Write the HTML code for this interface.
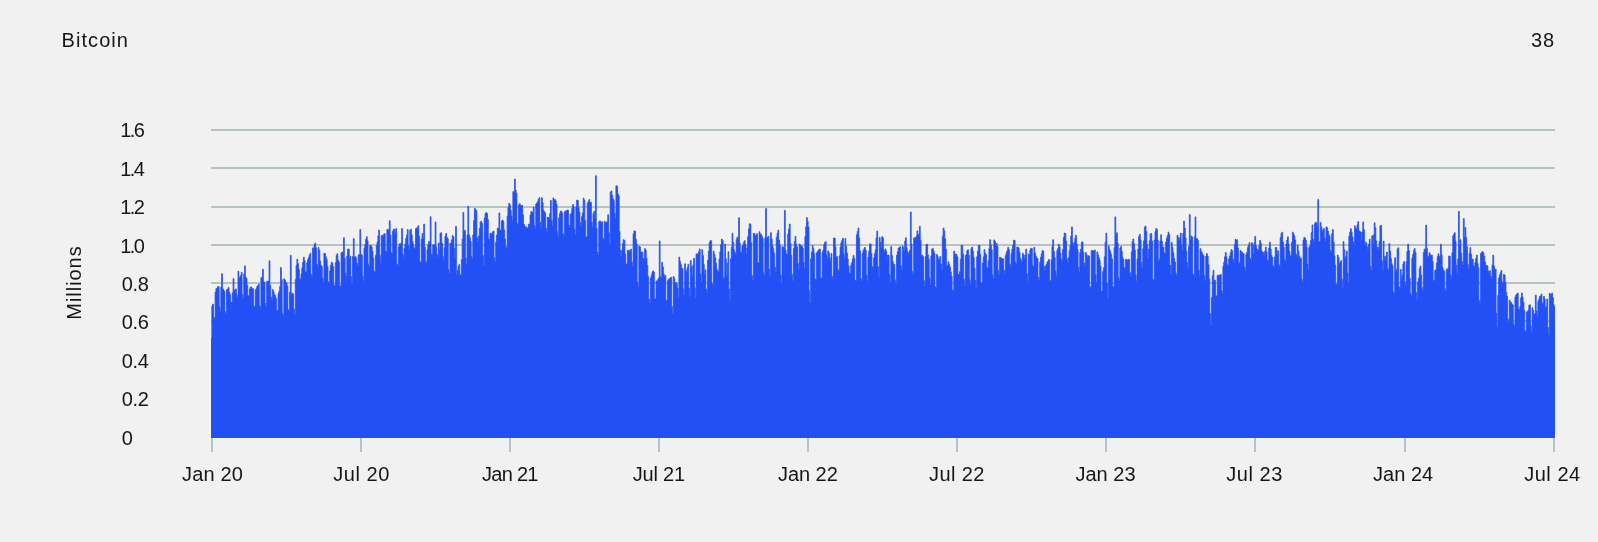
<!DOCTYPE html>
<html><head><meta charset="utf-8"><title>Bitcoin</title>
<style>
html,body{margin:0;padding:0;background:#f1f1f1;}
body{width:1598px;height:542px;overflow:hidden;font-family:"Liberation Sans",sans-serif;}
svg{display:block;will-change:transform;}
text{font-family:"Liberation Sans",sans-serif;font-size:20px;fill:#161616;}
</style></head><body>
<svg width="1598" height="542" viewBox="0 0 1598 542">
<rect x="0" y="0" width="1598" height="542" fill="#f1f1f1"/>
<rect x="211" y="129" width="1344" height="2" fill="#b5c4c2"/>
<rect x="211" y="167" width="1344" height="2" fill="#b5c4c2"/>
<rect x="211" y="206" width="1344" height="2" fill="#b5c4c2"/>
<rect x="211" y="244" width="1344" height="2" fill="#b5c4c2"/>
<rect x="211" y="282" width="1344" height="2" fill="#b5c4c2"/>
<rect x="211" y="320" width="1344" height="2" fill="#b5c4c2"/>
<rect x="211" y="359" width="1344" height="2" fill="#b5c4c2"/>
<rect x="211" y="397" width="1344" height="2" fill="#b5c4c2"/>
<rect x="210" y="438" width="1346" height="1" fill="#fcfbf1"/>
<rect x="210" y="340" width="1" height="98" fill="#f8f8f2"/>
<rect x="1555" y="312" width="1" height="126" fill="#f8f8f2"/>
<rect x="211" y="438" width="2" height="14" fill="#b5c4c2"/>
<rect x="360" y="438" width="2" height="14" fill="#b5c4c2"/>
<rect x="509" y="438" width="2" height="14" fill="#b5c4c2"/>
<rect x="658" y="438" width="2" height="14" fill="#b5c4c2"/>
<rect x="807" y="438" width="2" height="14" fill="#b5c4c2"/>
<rect x="956" y="438" width="2" height="14" fill="#b5c4c2"/>
<rect x="1105" y="438" width="2" height="14" fill="#b5c4c2"/>
<rect x="1254" y="438" width="2" height="14" fill="#b5c4c2"/>
<rect x="1404" y="438" width="2" height="14" fill="#b5c4c2"/>
<rect x="1553" y="438" width="2" height="14" fill="#b5c4c2"/>
<clipPath id="pc"><rect x="211.0" y="100" width="1344.0" height="338.0"/></clipPath>
<path clip-path="url(#pc)" fill="#2250f4" stroke="#2250f4" stroke-width="0.8" stroke-linejoin="miter" d="M211.00,438V338.4H211.82V306.1H212.64V304.1H213.45V317.1H214.27V318.4H215.09V292.2H215.91V288.5H216.73V288.4H217.54V286.5H218.36V286.7H219.18V306.9H220.00V310.7H220.82V287.1H221.63V273.7H222.45V288.7H223.27V290.0H224.09V291.3H224.91V311.8H225.72V314.0H226.54V289.6H227.36V289.0H228.18V287.5H229.00V292.5H229.81V294.8H230.63V302.0H231.45V302.9H232.27V292.8H233.09V278.6H233.90V290.3H234.72V289.9H235.54V288.9H236.36V295.0H237.18V297.4H237.99V271.2H238.81V278.8H239.63V276.8H240.45V275.4H241.27V272.3H242.08V294.5H242.90V298.5H243.72V273.9H244.54V265.9H245.36V277.3H246.17V278.4H246.99V285.4H247.81V295.7H248.63V296.3H249.45V289.0H250.26V287.0H251.08V287.0H251.90V289.2H252.72V288.5H253.54V306.0H254.35V306.2H255.17V289.7H255.99V288.7H256.81V286.2H257.63V285.8H258.44V284.1H259.26V305.7H260.08V307.3H260.90V277.5H261.72V278.9H262.53V269.3H263.35V281.4H264.17V282.5H264.99V303.6H265.81V306.2H266.63V281.4H267.44V281.3H268.26V281.0H269.08V260.8H269.90V285.4H270.72V297.0H271.53V300.6H272.35V289.6H273.17V291.5H273.99V294.4H274.81V295.6H275.62V298.3H276.44V310.6H277.26V310.7H278.08V293.6H278.90V291.3H279.71V286.4H280.53V267.5H281.35V279.5H282.17V313.4H282.99V316.2H283.80V278.8H284.62V280.2H285.44V282.1H286.26V283.2H287.08V285.9H287.89V309.6H288.71V310.7H289.53V292.1H290.35V255.3H291.17V294.4H291.98V293.3H292.80V294.1H293.62V309.1H294.44V315.1H295.26V279.4H296.07V265.3H296.89V259.3H297.71V263.7H298.53V269.5H299.35V278.7H300.16V279.7H300.98V273.6H301.80V267.9H302.62V262.3H303.44V257.2H304.25V260.6H305.07V271.8H305.89V271.9H306.71V262.7H307.53V259.6H308.34V257.7H309.16V255.2H309.98V253.3H310.80V274.2H311.62V277.1H312.43V247.9H313.25V248.3H314.07V244.8H314.89V243.2H315.71V247.8H316.52V264.0H317.34V266.8H318.16V247.5H318.98V250.3H319.80V261.0H320.61V265.2H321.43V266.4H322.25V278.1H323.07V282.7H323.89V253.3H324.70V253.6H325.52V256.8H326.34V259.4H327.16V266.4H327.98V281.7H328.79V283.0H329.61V270.9H330.43V265.2H331.25V262.1H332.07V263.2H332.88V266.5H333.70V284.9H334.52V285.5H335.34V262.6H336.16V255.4H336.97V253.6H337.79V260.1H338.61V262.0H339.43V285.2H340.25V286.8H341.06V252.7H341.88V251.9H342.70V253.6H343.52V237.8H344.34V258.2H345.15V273.1H345.97V276.8H346.79V256.1H347.61V249.1H348.43V249.1H349.24V258.6H350.06V256.3H350.88V276.7H351.70V283.5H352.52V256.6H353.33V238.6H354.15V257.3H354.97V256.7H355.79V257.7H356.61V263.3H357.42V265.2H358.24V254.8H359.06V254.7H359.88V229.5H360.70V254.3H361.51V255.0H362.33V276.2H363.15V281.0H363.97V247.9H364.79V244.5H365.60V239.3H366.42V236.7H367.24V240.8H368.06V264.2H368.88V266.9H369.70V245.2H370.51V245.5H371.33V246.9H372.15V251.3H372.97V258.1H373.79V271.1H374.60V271.8H375.42V255.3H376.24V245.3H377.06V242.0H377.88V235.8H378.69V230.1H379.51V255.3H380.33V263.2H381.15V235.5H381.97V235.4H382.78V236.2H383.60V234.0H384.42V233.7H385.24V251.0H386.06V251.9H386.87V229.4H387.69V229.6H388.51V230.9H389.33V220.7H390.15V235.0H390.96V252.5H391.78V253.6H392.60V230.9H393.42V229.0H394.24V229.7H395.05V233.6H395.87V228.5H396.69V264.0H397.51V265.2H398.33V246.9H399.14V243.9H399.96V244.3H400.78V243.2H401.60V228.5H402.42V253.9H403.23V256.9H404.05V248.5H404.87V244.2H405.69V238.4H406.51V235.1H407.32V229.5H408.14V245.8H408.96V249.4H409.78V230.4H410.60V229.2H411.41V235.0H412.23V241.6H413.05V244.5H413.87V247.8H414.69V248.6H415.50V228.7H416.32V228.3H417.14V227.3H417.96V225.7H418.78V236.1H419.59V261.4H420.41V262.7H421.23V238.9H422.05V233.5H422.87V238.4H423.68V224.0H424.50V247.2H425.32V261.5H426.14V262.7H426.96V249.8H427.77V244.5H428.59V241.4H429.41V242.5H430.23V216.7H431.05V254.2H431.86V254.4H432.68V245.0H433.50V244.6H434.32V245.9H435.14V222.0H435.95V246.9H436.77V254.6H437.59V256.9H438.41V242.9H439.23V249.8H440.04V232.9H440.86V232.9H441.68V243.1H442.50V256.3H443.32V260.2H444.13V247.5H444.95V236.2H445.77V233.5H446.59V237.4H447.41V238.7H448.22V269.6H449.04V273.5H449.86V243.3H450.68V243.0H451.50V239.8H452.31V235.6H453.13V236.8H453.95V248.3H454.77V258.9H455.59V226.5H456.40V274.6H457.22V270.6H458.04V266.5H458.86V264.5H459.68V274.6H460.49V275.6H461.31V259.5H462.13V239.0H462.95V212.4H463.77V232.1H464.58V230.4H465.40V257.8H466.22V264.3H467.04V235.1H467.86V206.2H468.67V234.8H469.49V237.4H470.31V241.2H471.13V256.1H471.95V258.4H472.77V234.9H473.58V220.6H474.40V208.4H475.22V209.6H476.04V210.7H476.86V237.9H477.67V242.1H478.49V235.9H479.31V228.5H480.13V221.9H480.95V221.3H481.76V223.4H482.58V255.6H483.40V264.9H484.22V218.1H485.04V213.6H485.85V212.5H486.67V213.5H487.49V219.3H488.31V238.9H489.13V240.2H489.94V233.3H490.76V233.5H491.58V234.0H492.40V231.9H493.22V231.1H494.03V257.8H494.85V262.0H495.67V241.9H496.49V234.9H497.31V228.0H498.12V228.3H498.94V212.9H499.76V229.8H500.58V230.7H501.40V220.9H502.21V220.1H503.03V221.2H503.85V229.9H504.67V238.8H505.49V246.6H506.30V248.5H507.12V216.2H507.94V207.5H508.76V203.4H509.58V204.8H510.39V210.3H511.21V216.1H512.03V220.2H512.85V191.6H513.67V192.5H514.48V179.0H515.30V190.0H516.12V193.2H516.94V223.7H517.76V224.5H518.57V205.1H519.39V203.6H520.21V205.6H521.03V205.7H521.85V205.3H522.66V214.9H523.48V224.1H524.30V226.1H525.12V228.0H525.94V226.8H526.75V228.6H527.57V228.1H528.39V224.0H529.21V225.2H530.03V215.0H530.84V211.6H531.66V211.8H532.48V214.1H533.30V207.1H534.12V225.3H534.93V228.5H535.75V204.0H536.57V203.0H537.39V201.6H538.21V199.1H539.02V197.6H539.84V222.3H540.66V228.6H541.48V197.8H542.30V202.7H543.11V210.2H543.93V211.7H544.75V212.7H545.57V228.0H546.39V231.8H547.20V217.1H548.02V217.5H548.84V218.3H549.66V213.6H550.48V200.4H551.29V220.3H552.11V226.0H552.93V198.1H553.75V200.1H554.57V199.4H555.38V200.8H556.20V204.2H557.02V231.8H557.84V237.0H558.66V217.7H559.47V213.6H560.29V211.0H561.11V211.3H561.93V213.1H562.75V233.4H563.56V236.0H564.38V211.8H565.20V210.9H566.02V210.9H566.84V210.1H567.65V210.1H568.47V225.1H569.29V227.7H570.11V213.9H570.93V214.0H571.74V208.5H572.56V204.5H573.38V206.8H574.20V229.0H575.02V235.0H575.84V207.2H576.65V200.0H577.47V200.5H578.29V207.5H579.11V212.1H579.93V222.7H580.74V226.0H581.56V216.5H582.38V212.9H583.20V198.2H584.02V200.3H584.83V220.4H585.65V236.8H586.47V236.8H587.29V202.9H588.11V201.3H588.92V199.6H589.74V203.0H590.56V202.2H591.38V221.9H592.20V227.6H593.01V213.2H593.83V211.3H594.65V217.5H595.47V175.7H596.29V228.3H597.10V252.1H597.92V255.1H598.74V221.9H599.56V220.8H600.38V222.2H601.19V222.1H602.01V221.8H602.83V238.4H603.65V239.3H604.47V221.3H605.28V223.0H606.10V222.2H606.92V221.9H607.74V214.7H608.56V232.6H609.37V243.5H610.19V192.1H611.01V190.9H611.83V195.2H612.65V198.7H613.46V200.5H614.28V213.2H615.10V218.5H615.92V185.8H616.74V186.2H617.55V193.7H618.37V195.8H619.19V231.6H620.01V250.6H620.83V256.8H621.64V250.3H622.46V243.4H623.28V239.7H624.10V240.5H624.92V254.2H625.73V263.9H626.55V264.0H627.37V250.2H628.19V250.2H629.01V250.7H629.82V251.6H630.64V249.0H631.46V261.8H632.28V265.9H633.10V233.9H633.91V230.9H634.73V231.1H635.55V239.2H636.37V244.0H637.19V282.2H638.00V286.8H638.82V246.0H639.64V247.0H640.46V251.5H641.28V253.1H642.09V252.0H642.91V258.6H643.73V259.2H644.55V248.6H645.37V250.0H646.18V258.2H647.00V265.2H647.82V276.6H648.64V299.2H649.46V302.9H650.27V278.1H651.09V275.5H651.91V272.5H652.73V270.9H653.55V271.9H654.36V298.7H655.18V299.1H656.00V280.9H656.82V282.0H657.64V279.6H658.45V277.9H659.27V240.9H660.09V276.8H660.91V277.5H661.73V262.3H662.54V266.9H663.36V273.9H664.18V276.6H665.00V275.5H665.82V300.1H666.63V300.4H667.45V280.6H668.27V279.4H669.09V278.5H669.91V278.2H670.72V277.3H671.54V306.4H672.36V313.3H673.18V276.5H674.00V278.3H674.81V282.5H675.63V282.6H676.45V283.6H677.27V288.0H678.09V297.8H678.91V257.1H679.72V261.3H680.54V264.3H681.36V268.3H682.18V268.5H683.00V288.9H683.81V295.2H684.63V263.7H685.45V270.2H686.27V272.3H687.09V267.6H687.90V264.2H688.72V288.1H689.54V295.2H690.36V260.6H691.18V266.6H691.99V276.3H692.81V264.9H693.63V258.3H694.45V287.7H695.27V297.8H696.08V253.9H696.90V254.6H697.72V253.4H698.54V251.7H699.36V248.9H700.17V274.3H700.99V282.3H701.81V249.7H702.63V255.5H703.45V264.6H704.26V273.7H705.08V269.8H705.90V289.0H706.72V292.6H707.54V260.1H708.35V251.1H709.17V242.6H709.99V240.7H710.81V240.8H711.63V283.4H712.44V284.9H713.26V251.2H714.08V254.2H714.90V257.8H715.72V263.2H716.53V269.4H717.35V271.1H718.17V271.2H718.99V259.0H719.81V251.8H720.62V244.6H721.44V239.1H722.26V240.5H723.08V277.5H723.90V278.4H724.71V244.1H725.53V258.6H726.35V275.7H727.17V263.3H727.99V251.7H728.80V289.0H729.62V300.4H730.44V258.7H731.26V247.3H732.08V233.1H732.89V242.3H733.71V249.7H734.53V252.3H735.35V254.6H736.17V239.5H736.98V237.0H737.80V239.3H738.62V217.7H739.44V243.1H740.26V252.2H741.07V252.3H741.89V246.3H742.71V244.9H743.53V242.2H744.35V240.7H745.16V244.6H745.98V253.5H746.80V248.0H747.62V236.8H748.44V228.9H749.25V223.8H750.07V224.1H750.89V242.8H751.71V275.5H752.53V279.7H753.34V233.4H754.16V233.5H754.98V236.1H755.80V235.5H756.62V233.7H757.43V262.6H758.25V262.9H759.07V231.7H759.89V233.7H760.71V234.3H761.52V236.0H762.34V238.4H763.16V272.7H763.98V275.8H764.80V237.8H765.61V208.6H766.43V237.4H767.25V237.4H768.07V236.3H768.89V269.3H769.70V275.8H770.52V232.7H771.34V239.0H772.16V245.7H772.98V248.7H773.79V253.0H774.61V267.2H775.43V271.9H776.25V237.3H777.07V233.3H777.88V230.2H778.70V239.9H779.52V244.7H780.34V275.4H781.16V283.6H781.98V246.7H782.79V246.9H783.61V248.0H784.43V210.5H785.25V249.8H786.07V254.0H786.88V254.0H787.70V234.0H788.52V229.1H789.34V224.0H790.16V243.4H790.97V255.4H791.79V274.6H792.61V281.0H793.43V248.2H794.25V241.3H795.06V236.3H795.88V244.2H796.70V247.0H797.52V263.3H798.34V269.4H799.15V244.0H799.97V244.9H800.79V246.0H801.61V246.1H802.43V248.1H803.24V262.2H804.06V268.1H804.88V236.5H805.70V226.7H806.52V217.5H807.33V221.6H808.15V227.1H808.97V290.7H809.79V302.9H810.61V258.7H811.42V252.1H812.24V245.4H813.06V248.6H813.88V253.6H814.70V279.0H815.51V279.7H816.33V252.9H817.15V251.5H817.97V250.5H818.79V249.3H819.60V249.2H820.42V277.7H821.24V278.4H822.06V252.4H822.88V250.0H823.69V244.7H824.51V242.7H825.33V241.6H826.15V255.1H826.97V259.3H827.78V250.9H828.60V252.7H829.42V257.7H830.24V260.4H831.06V253.5H831.87V276.2H832.69V278.4H833.51V238.0H834.33V238.0H835.15V246.8H835.96V257.5H836.78V256.5H837.60V269.5H838.42V270.9H839.24V255.8H840.05V247.0H840.87V242.7H841.69V240.4H842.51V238.3H843.33V253.4H844.14V258.1H844.96V238.6H845.78V246.3H846.60V252.9H847.42V259.0H848.23V266.3H849.05V273.0H849.87V273.5H850.69V265.0H851.51V262.8H852.32V258.9H853.14V255.4H853.96V258.5H854.78V280.3H855.60V281.0H856.41V234.8H857.23V231.4H858.05V228.0H858.87V238.1H859.69V250.7H860.50V278.5H861.32V281.0H862.14V253.2H862.96V250.4H863.78V248.7H864.59V247.4H865.41V250.2H866.23V275.6H867.05V281.0H867.87V257.1H868.68V251.0H869.50V243.9H870.32V244.1H871.14V253.5H871.96V266.6H872.77V267.4H873.59V257.7H874.41V253.5H875.23V249.7H876.05V237.7H876.86V231.1H877.68V266.8H878.50V277.1H879.32V237.5H880.14V242.1H880.95V248.1H881.77V236.7H882.59V237.8H883.41V249.8H884.23V252.1H885.05V248.9H885.86V251.1H886.68V255.1H887.50V257.6H888.32V255.0H889.14V274.4H889.95V282.3H890.77V246.5H891.59V255.3H892.41V261.6H893.23V264.5H894.04V264.3H894.86V279.9H895.68V283.6H896.50V255.2H897.32V251.7H898.13V248.1H898.95V247.8H899.77V246.7H900.59V265.5H901.41V270.6H902.22V245.9H903.04V247.8H903.86V250.7H904.68V241.0H905.50V237.8H906.31V247.7H907.13V251.3H907.95V253.7H908.77V252.4H909.59V250.2H910.40V212.0H911.22V244.2H912.04V271.6H912.86V274.5H913.68V237.8H914.49V238.8H915.31V237.5H916.13V236.1H916.95V230.9H917.77V234.3H918.58V234.9H919.40V226.3H920.22V240.2H921.04V256.1H921.86V255.1H922.67V256.7H923.49V280.2H924.31V286.1H925.13V256.5H925.95V244.6H926.76V244.2H927.58V254.6H928.40V259.0H929.22V277.8H930.04V284.9H930.85V255.7H931.67V249.0H932.49V248.4H933.31V250.9H934.13V253.5H934.94V286.8H935.76V287.4H936.58V254.5H937.40V256.6H938.22V259.8H939.03V259.4H939.85V256.6H940.67V264.0H941.49V270.6H942.31V236.4H943.12V228.1H943.94V230.8H944.76V238.8H945.58V249.1H946.40V265.2H947.21V265.5H948.03V261.7H948.85V264.2H949.67V267.2H950.49V271.9H951.30V276.3H952.12V290.0H952.94V291.3H953.76V251.1H954.58V253.8H955.39V256.2H956.21V254.3H957.03V256.9H957.85V274.0H958.67V274.5H959.48V271.6H960.30V259.3H961.12V245.2H961.94V245.6H962.76V254.1H963.57V279.2H964.39V286.1H965.21V255.6H966.03V254.7H966.85V250.4H967.66V249.8H968.48V255.3H969.30V279.8H970.12V284.9H970.94V248.6H971.75V247.1H972.57V251.0H973.39V257.4H974.21V268.3H975.03V280.5H975.84V287.4H976.66V256.7H977.48V251.2H978.30V245.5H979.12V245.1H979.93V254.4H980.75V283.0H981.57V283.6H982.39V263.1H983.21V256.9H984.02V249.5H984.84V253.2H985.66V254.4H986.48V267.5H987.30V268.1H988.12V260.6H988.93V248.4H989.75V239.7H990.57V244.8H991.39V249.7H992.21V274.8H993.02V278.4H993.84V239.9H994.66V241.4H995.48V243.5H996.30V243.5H997.11V246.2H997.93V270.6H998.75V274.5H999.57V257.2H1000.39V257.6H1001.20V258.9H1002.02V259.0H1002.84V258.6H1003.66V270.3H1004.48V273.2H1005.29V255.4H1006.11V252.6H1006.93V250.4H1007.75V247.3H1008.57V249.3H1009.38V264.0H1010.20V266.2H1011.02V253.5H1011.84V249.0H1012.66V245.1H1013.47V240.1H1014.29V240.4H1015.11V262.0H1015.93V264.2H1016.75V247.1H1017.56V247.2H1018.38V248.2H1019.20V252.4H1020.02V258.0H1020.84V260.5H1021.65V262.3H1022.47V253.3H1023.29V254.9H1024.11V259.0H1024.93V255.1H1025.74V249.1H1026.56V273.5H1027.38V281.0H1028.20V253.9H1029.02V254.7H1029.83V250.0H1030.65V248.3H1031.47V248.4H1032.29V265.4H1033.11V266.8H1033.92V247.3H1034.74V253.0H1035.56V256.1H1036.38V258.0H1037.20V258.6H1038.01V277.3H1038.83V279.7H1039.65V262.3H1040.47V257.2H1041.29V253.7H1042.10V250.4H1042.92V251.1H1043.74V266.5H1044.56V270.6H1045.38V265.7H1046.19V264.3H1047.01V262.1H1047.83V261.0H1048.65V259.4H1049.47V280.3H1050.28V281.0H1051.10V259.9H1051.92V246.6H1052.74V239.7H1053.56V251.3H1054.37V257.7H1055.19V271.1H1056.01V275.8H1056.83V250.4H1057.65V248.6H1058.46V244.3H1059.28V246.7H1060.10V253.0H1060.92V259.1H1061.74V262.0H1062.55V249.4H1063.37V237.5H1064.19V233.1H1065.01V233.5H1065.83V241.1H1066.64V258.9H1067.46V262.9H1068.28V257.6H1069.10V250.6H1069.92V245.5H1070.73V236.0H1071.55V226.9H1072.37V242.8H1073.19V246.0H1074.01V242.4H1074.82V238.2H1075.64V235.2H1076.46V243.9H1077.28V249.5H1078.10V267.3H1078.91V271.9H1079.73V252.4H1080.55V249.1H1081.37V242.3H1082.19V241.9H1083.00V252.3H1083.82V263.0H1084.64V265.2H1085.46V252.5H1086.28V254.6H1087.09V257.2H1087.91V255.7H1088.73V255.9H1089.55V286.5H1090.37V287.4H1091.19V250.5H1092.00V250.5H1092.82V250.7H1093.64V251.5H1094.46V249.9H1095.28V275.1H1096.09V282.3H1096.91V251.9H1097.73V254.8H1098.55V257.8H1099.37V260.5H1100.18V266.2H1101.00V291.2H1101.82V291.3H1102.64V271.4H1103.46V267.8H1104.27V256.8H1105.09V242.2H1105.91V233.1H1106.73V283.5H1107.55V299.1H1108.36V245.9H1109.18V249.4H1110.00V251.3H1110.82V254.3H1111.64V258.8H1112.45V286.4H1113.27V287.4H1114.09V247.6H1114.91V216.9H1115.73V236.1H1116.54V232.8H1117.36V243.2H1118.18V277.8H1119.00V281.0H1119.82V248.0H1120.63V246.4H1121.45V251.5H1122.27V257.7H1123.09V259.6H1123.91V267.5H1124.72V268.7H1125.54V259.3H1126.36V259.5H1127.18V260.8H1128.00V259.4H1128.81V259.4H1129.63V272.6H1130.45V277.1H1131.27V252.1H1132.09V241.6H1132.90V239.0H1133.72V243.5H1134.54V250.2H1135.36V275.3H1136.18V281.0H1136.99V258.9H1137.81V249.1H1138.63V236.4H1139.45V234.3H1140.27V240.0H1141.08V262.5H1141.90V268.1H1142.72V248.5H1143.54V240.8H1144.36V227.2H1145.17V226.1H1145.99V231.7H1146.81V244.4H1147.63V258.5H1148.45V249.0H1149.26V240.7H1150.08V234.0H1150.90V233.5H1151.72V240.9H1152.54V279.7H1153.35V279.7H1154.17V240.1H1154.99V231.6H1155.81V228.6H1156.63V229.4H1157.44V240.1H1158.26V261.3H1159.08V259.1H1159.90V240.9H1160.72V234.8H1161.53V241.3H1162.35V248.1H1163.17V247.0H1163.99V253.0H1164.81V253.3H1165.62V242.1H1166.44V238.2H1167.26V235.6H1168.08V232.1H1168.90V234.6H1169.71V265.1H1170.53V274.5H1171.35V242.5H1172.17V247.5H1172.99V252.8H1173.80V258.4H1174.62V262.0H1175.44V273.0H1176.26V275.8H1177.08V235.2H1177.89V237.4H1178.71V241.1H1179.53V237.8H1180.35V233.1H1181.17V244.8H1181.98V251.1H1182.80V233.3H1183.62V221.1H1184.44V228.0H1185.26V237.9H1186.07V251.3H1186.89V262.7H1187.71V268.1H1188.53V246.4H1189.35V214.6H1190.16V239.8H1190.98V235.9H1191.80V237.0H1192.62V273.9H1193.44V275.8H1194.26V236.8H1195.07V216.9H1195.89V238.4H1196.71V238.7H1197.53V240.3H1198.35V270.0H1199.16V275.8H1199.98V248.6H1200.80V250.9H1201.62V252.7H1202.44V254.6H1203.25V255.8H1204.07V275.6H1204.89V281.0H1205.71V256.0H1206.53V253.6H1207.34V256.0H1208.16V264.6H1208.98V279.1H1209.80V313.5H1210.62V324.9H1211.43V297.5H1212.25V275.5H1213.07V270.3H1213.89V280.2H1214.71V280.6H1215.52V295.6H1216.34V296.5H1217.16V275.2H1217.98V275.8H1218.80V275.0H1219.61V275.3H1220.43V274.5H1221.25V290.7H1222.07V293.9H1222.89V266.5H1223.70V262.2H1224.52V256.8H1225.34V252.4H1226.16V256.9H1226.98V264.8H1227.79V266.1H1228.61V258.9H1229.43V256.0H1230.25V252.4H1231.07V249.6H1231.88V250.8H1232.70V259.1H1233.52V262.7H1234.34V244.3H1235.16V239.3H1235.97V240.8H1236.79V239.7H1237.61V248.0H1238.43V263.3H1239.25V262.2H1240.06V250.4H1240.88V251.6H1241.70V252.3H1242.52V254.2H1243.34V253.6H1244.15V267.2H1244.97V270.6H1245.79V254.6H1246.61V252.3H1247.43V247.4H1248.24V244.9H1249.06V242.7H1249.88V258.3H1250.70V259.5H1251.52V242.7H1252.33V245.0H1253.15V253.7H1253.97V243.2H1254.79V236.4H1255.61V245.6H1256.42V248.8H1257.24V250.4H1258.06V249.8H1258.88V245.3H1259.70V240.4H1260.51V243.2H1261.33V251.1H1262.15V252.0H1262.97V252.5H1263.79V255.6H1264.60V251.2H1265.42V247.2H1266.24V251.8H1267.06V259.8H1267.88V261.3H1268.69V248.1H1269.51V242.2H1270.33V249.0H1271.15V255.4H1271.97V257.5H1272.78V265.8H1273.60V266.7H1274.42V257.2H1275.24V247.6H1276.06V247.5H1276.87V254.7H1277.69V250.8H1278.51V264.7H1279.33V266.8H1280.15V237.8H1280.96V233.6H1281.78V232.2H1282.60V241.9H1283.42V247.2H1284.24V259.4H1285.05V261.2H1285.87V244.0H1286.69V240.0H1287.51V236.8H1288.33V244.0H1289.14V251.5H1289.96V255.7H1290.78V255.4H1291.60V242.3H1292.42V232.1H1293.23V233.8H1294.05V236.1H1294.87V240.1H1295.69V254.3H1296.51V256.8H1297.33V245.2H1298.14V251.1H1298.96V256.0H1299.78V258.2H1300.60V258.2H1301.42V279.3H1302.23V282.3H1303.05V240.0H1303.87V237.3H1304.69V238.1H1305.51V240.1H1306.32V247.0H1307.14V264.1H1307.96V269.4H1308.78V247.5H1309.60V245.9H1310.41V240.6H1311.23V232.5H1312.05V224.9H1312.87V239.4H1313.69V242.6H1314.50V223.6H1315.32V222.2H1316.14V223.0H1316.96V226.5H1317.78V199.6H1318.59V241.4H1319.41V242.0H1320.23V222.5H1321.05V226.9H1321.87V231.3H1322.68V229.8H1323.50V228.6H1324.32V238.0H1325.14V241.6H1325.96V226.9H1326.77V227.8H1327.59V231.1H1328.41V234.2H1329.23V236.4H1330.05V250.5H1330.86V253.0H1331.68V233.6H1332.50V229.6H1333.32V242.1H1334.14V255.8H1334.95V265.0H1335.77V283.9H1336.59V284.9H1337.41V255.1H1338.23V257.5H1339.04V263.7H1339.86V262.5H1340.68V260.7H1341.50V279.0H1342.32V287.4H1343.13V241.6H1343.95V249.6H1344.77V258.6H1345.59V256.6H1346.41V251.1H1347.22V272.9H1348.04V282.3H1348.86V236.3H1349.68V232.2H1350.50V228.8H1351.31V232.0H1352.13V237.0H1352.95V241.9H1353.77V245.0H1354.59V225.9H1355.40V229.1H1356.22V228.5H1357.04V224.8H1357.86V221.7H1358.68V230.8H1359.49V232.5H1360.31V231.8H1361.13V240.2H1361.95V232.0H1362.77V221.9H1363.58V229.7H1364.40V241.6H1365.22V245.5H1366.04V242.7H1366.86V246.8H1367.67V249.6H1368.49V244.1H1369.31V239.2H1370.13V266.2H1370.95V270.3H1371.76V235.8H1372.58V244.4H1373.40V234.8H1374.22V222.8H1375.04V227.7H1375.85V240.8H1376.67V247.0H1377.49V249.8H1378.31V247.5H1379.13V241.6H1379.94V225.7H1380.76V225.5H1381.58V260.5H1382.40V270.3H1383.22V241.1H1384.03V256.7H1384.85V260.4H1385.67V255.9H1386.49V252.1H1387.31V268.4H1388.12V270.3H1388.94V243.6H1389.76V251.1H1390.58V258.3H1391.40V263.7H1392.21V265.7H1393.03V291.9H1393.85V293.6H1394.67V257.7H1395.49V271.7H1396.30V269.4H1397.12V249.0H1397.94V247.8H1398.76V287.0H1399.58V288.4H1400.40V269.5H1401.21V278.3H1402.03V275.2H1402.85V263.8H1403.67V261.6H1404.49V281.7H1405.30V285.8H1406.12V261.7H1406.94V251.6H1407.76V244.0H1408.58V250.6H1409.39V278.2H1410.21V293.4H1411.03V296.1H1411.85V258.2H1412.67V254.3H1413.48V250.5H1414.30V248.5H1415.12V252.5H1415.94V292.7H1416.76V300.0H1417.57V281.7H1418.39V278.0H1419.21V268.6H1420.03V266.0H1420.85V275.0H1421.66V287.4H1422.48V289.7H1423.30V252.6H1424.12V249.1H1424.94V249.3H1425.75V225.1H1426.57V248.3H1427.39V256.4H1428.21V256.6H1429.03V252.7H1429.84V254.5H1430.66V256.1H1431.48V255.1H1432.30V261.4H1433.12V280.4H1433.93V280.6H1434.75V270.5H1435.57V269.5H1436.39V262.9H1437.21V256.8H1438.02V253.8H1438.84V256.2H1439.66V257.8H1440.48V244.3H1441.30V254.8H1442.11V267.2H1442.93V269.4H1443.75V271.0H1444.57V288.4H1445.39V291.0H1446.20V269.2H1447.02V269.8H1447.84V267.8H1448.66V255.9H1449.48V256.4H1450.29V275.1H1451.11V278.1H1451.93V252.7H1452.75V235.9H1453.57V234.4H1454.38V232.7H1455.20V240.9H1456.02V265.1H1456.84V272.9H1457.66V258.9H1458.47V211.4H1459.29V244.9H1460.11V239.7H1460.93V253.0H1461.75V261.4H1462.56V265.1H1463.38V218.6H1464.20V236.7H1465.02V227.6H1465.84V237.6H1466.65V246.4H1467.47V264.4H1468.29V269.0H1469.11V253.2H1469.93V247.6H1470.74V254.2H1471.56V259.5H1472.38V259.1H1473.20V265.8H1474.02V267.3H1474.83V262.6H1475.65V258.4H1476.47V255.1H1477.29V263.4H1478.11V267.7H1478.92V300.4H1479.74V302.6H1480.56V253.6H1481.38V252.6H1482.20V251.6H1483.01V252.8H1483.83V256.0H1484.65V261.9H1485.47V266.3H1486.29V265.2H1487.10V266.1H1487.92V270.9H1488.74V272.4H1489.56V270.8H1490.38V276.2H1491.19V279.0H1492.01V264.8H1492.83V255.2H1493.65V266.0H1494.47V269.2H1495.28V269.1H1496.10V312.9H1496.92V327.1H1497.74V295.3H1498.56V277.9H1499.37V274.9H1500.19V272.6H1501.01V270.5H1501.83V281.9H1502.65V283.2H1503.47V274.5H1504.28V275.1H1505.10V282.3H1505.92V292.4H1506.74V296.3H1507.56V318.9H1508.37V322.0H1509.19V300.1H1510.01V302.0H1510.83V302.4H1511.65V304.0H1512.46V305.0H1513.28V323.7H1514.10V325.9H1514.92V296.9H1515.74V295.1H1516.55V294.0H1517.37V293.1H1518.19V308.9H1519.01V309.8H1519.83V306.5H1520.64V297.8H1521.46V293.0H1522.28V297.1H1523.10V302.2H1523.92V310.2H1524.73V330.8H1525.55V332.3H1526.37V312.2H1527.19V311.2H1528.01V310.3H1528.82V305.3H1529.64V304.8H1530.46V325.8H1531.28V332.3H1532.10V307.7H1532.91V310.5H1533.73V314.3H1534.55V313.6H1535.37V295.1H1536.19V311.0H1537.00V315.5H1537.82V301.5H1538.64V299.3H1539.46V296.3H1540.28V296.1H1541.09V294.0H1541.91V302.8H1542.73V304.0H1543.55V296.3H1544.37V299.1H1545.18V308.0H1546.00V306.8H1546.82V299.0H1547.64V327.4H1548.46V334.9H1549.27V293.2H1550.09V294.1H1550.91V295.1H1551.73V293.1H1552.55V297.6H1553.36V304.8H1554.18V307.0H1555.00V438Z"/>
<text x="61.6" y="47" letter-spacing="1.05">Bitcoin</text>
<text x="1531" y="47" letter-spacing="0.8">38</text>
<text x="120.2" y="137.4" letter-spacing="-1.5">1.6</text>
<text x="120.2" y="175.8" letter-spacing="-1.5">1.4</text>
<text x="120.2" y="214.2" letter-spacing="-1.5">1.2</text>
<text x="120.2" y="252.6" letter-spacing="-1.5">1.0</text>
<text x="121.8" y="291.0" letter-spacing="-0.4">0.8</text>
<text x="121.8" y="329.4" letter-spacing="-0.4">0.6</text>
<text x="121.8" y="367.8" letter-spacing="-0.4">0.4</text>
<text x="121.8" y="406.2" letter-spacing="-0.4">0.2</text>
<text x="121.8" y="444.6" letter-spacing="-0.4">0</text>
<text x="182.12" y="481.3" letter-spacing="0.138">Jan 20</text>
<text x="333.21" y="481.3" letter-spacing="0.562">Jul 20</text>
<text x="482.05" y="481.3" letter-spacing="-0.726">Jan 21</text>
<text x="632.77" y="481.3" letter-spacing="-0.218">Jul 21</text>
<text x="778.12" y="481.3" letter-spacing="-0.074">Jan 22</text>
<text x="929.05" y="481.3" letter-spacing="0.413">Jul 22</text>
<text x="1075.46" y="481.3" letter-spacing="0.013">Jan 23</text>
<text x="1226.34" y="481.3" letter-spacing="0.541">Jul 23</text>
<text x="1373.12" y="481.3" letter-spacing="-0.009">Jan 24</text>
<text x="1524.21" y="481.3" letter-spacing="0.514">Jul 24</text>
<text transform="translate(81.3,282.5) rotate(-90)" text-anchor="middle" letter-spacing="0.95">Millions</text>
</svg>
</body></html>
